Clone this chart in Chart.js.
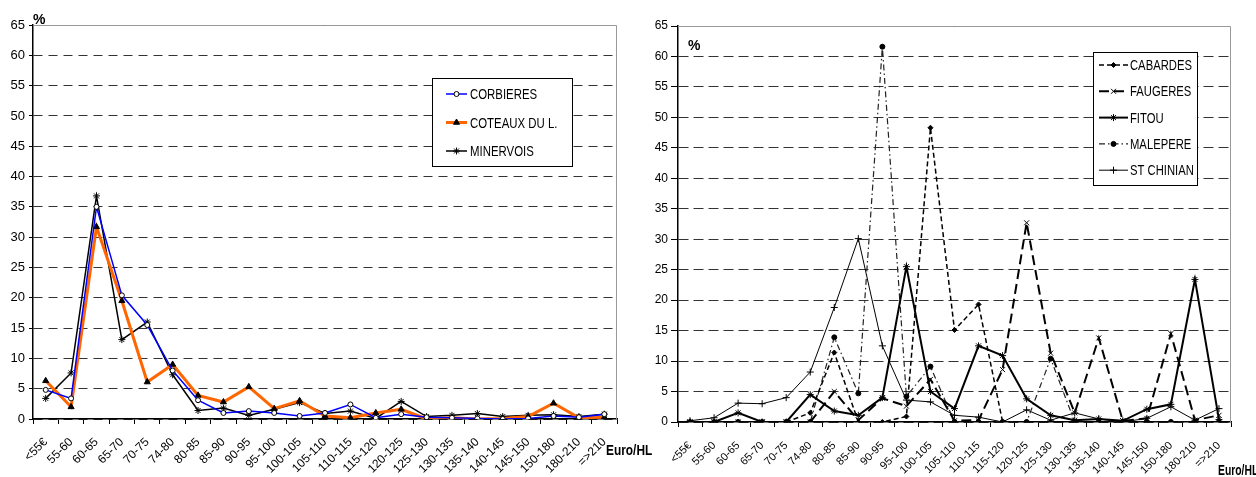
<!DOCTYPE html>
<html>
<head>
<meta charset="utf-8">
<script src="https://cdn.jsdelivr.net/npm/chart.js@4.4.0/dist/chart.umd.min.js"></script>
<style>
  html, body { margin: 0; padding: 0; background: #fff; }
  #wrap { position: relative; width: 1256px; height: 477px; overflow: hidden; }
  #left { position: absolute; left: 0; top: 0; }
  #right { position: absolute; left: 628px; top: 0; }
</style>
</head>
<body>
<div id="wrap">
  <canvas id="left" width="660" height="477"></canvas>
  <canvas id="right" width="628" height="477"></canvas>
</div>
<script>
// price classes (Euro/HL)
const categories = ['<55€', '55-60', '60-65', '65-70', '70-75', '74-80', '80-85', '85-90', '90-95', '95-100',
  '100-105', '105-110', '110-115', '115-120', '120-125', '125-130', '130-135', '135-140', '140-145',
  '145-150', '150-180', '180-210', '=>210'];

// left chart, % of volume
const corbieres = [4.8, 3.4, 35.0, 20.4, 15.5, 8.0, 3.1, 1.0, 1.3, 1.0, 0.5, 1.0, 2.4, 0.2, 0.8, 0.3, 0.2, 0.1, 0.0, 0.1, 0.5, 0.3, 0.8];
const coteaux   = [6.3, 2.0, 31.7, 19.5, 6.1, 9.0, 3.9, 2.8, 5.3, 1.7, 3.0, 0.5, 0.2, 1.0, 1.6, 0.0, 0.2, 0.0, 0.1, 0.4, 2.6, 0.2, 0.3];
const minervois = [3.4, 7.6, 36.8, 13.1, 16.0, 7.3, 1.4, 1.8, 0.6, 1.6, 2.7, 0.9, 1.3, 0.1, 2.9, 0.4, 0.6, 0.9, 0.4, 0.6, 0.7, 0.4, 0.8];

// right chart, % of volume
const cabardes  = [0, 0, 0, 0, 0, 1.5, 11.4, 0, 0, 0.9, 48.3, 15.1, 19.3, 0, 0, 0, 0, 0, 0, 0, 0, 0, 0];
const faugeres  = [0, 0, 0, 0, 0, 0, 5.0, 0.3, 3.9, 2.6, 7.0, 0.2, 0.3, 8.6, 32.7, 11.3, 1.5, 13.8, 0.2, 0.6, 14.5, 0.3, 1.1];
const fitou     = [0, 0, 1.5, 0, 0, 4.5, 1.8, 1.1, 4.0, 25.5, 5.0, 2.2, 12.5, 10.9, 3.8, 1.1, 0.3, 0.5, 0.2, 2.1, 2.9, 23.4, 0.4];
const malepere  = [0, 0, 0, 0, 0, 0, 13.9, 4.7, 61.6, 4.2, 9.1, 0, 0, 0, 0, 10.4, 0, 0, 0, 0, 0, 0, 0];
const stChinian = [0.2, 0.7, 3.1, 3.0, 4.0, 8.2, 18.8, 30.1, 12.5, 3.6, 3.3, 1.1, 0.8, 0, 2.0, 0.3, 1.5, 0.5, 0, 0.6, 2.5, 0.3, 2.2];

const FONT = "'Liberation Sans', Arial, sans-serif";

// grey frame on top and right of the plot area
const frame = {
  id: 'frame',
  beforeDatasetsDraw(chart) {
    const { ctx, chartArea: a } = chart;
    ctx.save();
    ctx.strokeStyle = '#999';
    ctx.lineWidth = 1;
    ctx.beginPath();
    ctx.moveTo(a.left, a.top + 0.5);
    ctx.lineTo(a.right - 0.5, a.top + 0.5);
    ctx.lineTo(a.right - 0.5, a.bottom);
    ctx.stroke();
    ctx.restore();
  }
};

// boxed legend inside the plot
const boxLegend = {
  id: 'boxLegend',
  afterDraw(chart, args, o) {
    const ctx = chart.ctx;
    ctx.save();
    ctx.fillStyle = '#fff';
    ctx.fillRect(o.x, o.y, o.w, o.h);
    ctx.strokeStyle = '#000';
    ctx.lineWidth = 1;
    ctx.strokeRect(o.x + 0.5, o.y + 0.5, o.w, o.h);
    chart.data.datasets.forEach((ds, i) => {
      const y = o.y + o.first + i * o.gap;
      ctx.setLineDash(ds.borderDash || []);
      ctx.strokeStyle = ds.borderColor;
      ctx.lineWidth = ds.borderWidth;
      ctx.beginPath();
      ctx.moveTo(o.x + o.lx1, y);
      ctx.lineTo(o.x + o.lx2, y);
      ctx.stroke();
      ctx.setLineDash([]);
      ctx.fillStyle = ds.pointBackgroundColor;
      ctx.strokeStyle = ds.pointBorderColor;
      ctx.lineWidth = ds.pointBorderWidth;
      Chart.helpers.drawPoint(ctx, {
        pointStyle: ds.pointStyle, radius: ds.pointRadius, rotation: 0, borderWidth: ds.pointBorderWidth
      }, o.x + (o.lx1 + o.lx2) / 2, y);
      ctx.save();
      ctx.translate(o.x + o.tx, y);
      ctx.scale(o.sx, 1);
      ctx.font = o.font;
      ctx.fillStyle = '#000';
      ctx.textBaseline = 'middle';
      ctx.fillText(ds.label, 0, 1);
      ctx.restore();
    });
    ctx.restore();
  }
};

// loose texts: "%" and "Euro/HL"
const notes = {
  id: 'notes',
  afterDraw(chart, args, o) {
    const ctx = chart.ctx;
    o.items.forEach(t => {
      ctx.save();
      ctx.translate(t.x, t.y);
      ctx.scale(t.sx || 1, 1);
      ctx.font = t.font;
      ctx.fillStyle = '#000';
      ctx.textBaseline = 'alphabetic';
      ctx.fillText(t.text, 0, 0);
      ctx.restore();
    });
  }
};

function makeOptions(cfg) {
  return {
    responsive: false,
    animation: false,
    layout: { padding: { top: cfg.top, right: cfg.right, left: 0, bottom: 0 } },
    elements: { line: { tension: 0 } },
    plugins: {
      legend: { display: false },
      tooltip: { enabled: false },
      boxLegend: cfg.legend,
      notes: { items: cfg.notes }
    },
    scales: {
      x: {
        offset: true,
        grid: { offset: true, drawOnChartArea: false, drawTicks: true, tickLength: 5, color: '#000', lineWidth: 1 },
        border: { color: '#000', width: 1.5 },
        ticks: {
          autoSkip: false, minRotation: 45, maxRotation: 45, color: '#000',
          font: { family: FONT, size: cfg.xFont }, padding: cfg.xPad
        },
        afterFit(s) { s.height = cfg.xHeight; }
      },
      y: {
        min: 0,
        max: 65,
        ticks: { stepSize: 5, color: '#000', font: { family: FONT, size: cfg.yFont }, padding: cfg.yPad },
        grid: { color: '#333', lineWidth: 1, tickLength: cfg.yTick, tickColor: '#000' },
        border: { color: '#000', width: 1.5, dash: cfg.dash },
        afterFit(s) { s.width = cfg.yWidth; }
      }
    }
  };
}

new Chart(document.getElementById('left'), {
  type: 'line',
  data: {
    labels: categories,
    datasets: [
      { label: 'CORBIERES', data: corbieres, borderColor: '#0000ff', borderWidth: 1.5,
        pointStyle: 'circle', pointRadius: 2.5, pointBackgroundColor: '#fff', pointBorderColor: '#000', pointBorderWidth: 1 },
      { label: 'COTEAUX DU L.', data: coteaux, borderColor: '#ff6600', borderWidth: 3,
        pointStyle: 'triangle', pointRadius: 3.5, pointBackgroundColor: '#000', pointBorderColor: '#000', pointBorderWidth: 1 },
      { label: 'MINERVOIS', data: minervois, borderColor: '#000', borderWidth: 1.5,
        pointStyle: 'star', pointRadius: 3.5, pointBackgroundColor: '#000', pointBorderColor: '#000', pointBorderWidth: 1 }
    ]
  },
  options: makeOptions({
    top: 25, right: 43, yWidth: 33, xHeight: 58, xFont: 12, xPad: 11, yFont: 13, yPad: 4, yTick: 4,
    dash: [9, 6],
    legend: { x: 432, y: 78, w: 140, h: 88, first: 16, gap: 28.5, lx1: 14, lx2: 35, tx: 38,
      font: '15px ' + FONT, sx: 0.76 },
    notes: [
      { text: '%', x: 33, y: 24, font: 'bold 14px ' + FONT },
      { text: 'Euro/HL', x: 606, y: 455, font: 'bold 14px ' + FONT, sx: 0.85 }
    ]
  }),
  plugins: [frame, boxLegend, notes]
});

new Chart(document.getElementById('right'), {
  type: 'line',
  data: {
    labels: categories,
    datasets: [
      { label: 'CABARDES', data: cabardes, borderColor: '#000', borderWidth: 1.5, borderDash: [5, 3],
        pointStyle: 'rectRot', pointRadius: 2.5, pointBackgroundColor: '#000', pointBorderColor: '#000', pointBorderWidth: 1 },
      { label: 'FAUGERES', data: faugeres, borderColor: '#000', borderWidth: 2, borderDash: [10, 5],
        pointStyle: 'crossRot', pointRadius: 3.5, pointBackgroundColor: '#000', pointBorderColor: '#000', pointBorderWidth: 1 },
      { label: 'FITOU', data: fitou, borderColor: '#000', borderWidth: 2,
        pointStyle: 'star', pointRadius: 3.5, pointBackgroundColor: '#000', pointBorderColor: '#000', pointBorderWidth: 1 },
      { label: 'MALEPERE', data: malepere, borderColor: '#222', borderWidth: 1.2, borderDash: [6, 3, 1.5, 3],
        pointStyle: 'circle', pointRadius: 2.5, pointBackgroundColor: '#000', pointBorderColor: '#000', pointBorderWidth: 1 },
      { label: 'ST CHINIAN', data: stChinian, borderColor: '#000', borderWidth: 1,
        pointStyle: 'cross', pointRadius: 3.5, pointBackgroundColor: '#000', pointBorderColor: '#000', pointBorderWidth: 1 }
    ]
  },
  options: makeOptions({
    top: 26, right: 25, yWidth: 50, xHeight: 55, xFont: 11, xPad: 12, yFont: 12, yPad: 3, yTick: 7,
    dash: [10, 5],
    legend: { x: 465, y: 52, w: 104, h: 133, first: 13, gap: 26.3, lx1: 6, lx2: 35, tx: 37,
      font: '15px ' + FONT, sx: 0.75 },
    notes: [
      { text: '%', x: 60, y: 50, font: 'bold 14px ' + FONT },
      { text: 'Euro/HL', x: 590, y: 475, font: 'bold 14px ' + FONT, sx: 0.74 }
    ]
  }),
  plugins: [frame, boxLegend, notes]
});
</script>
</body>
</html>
